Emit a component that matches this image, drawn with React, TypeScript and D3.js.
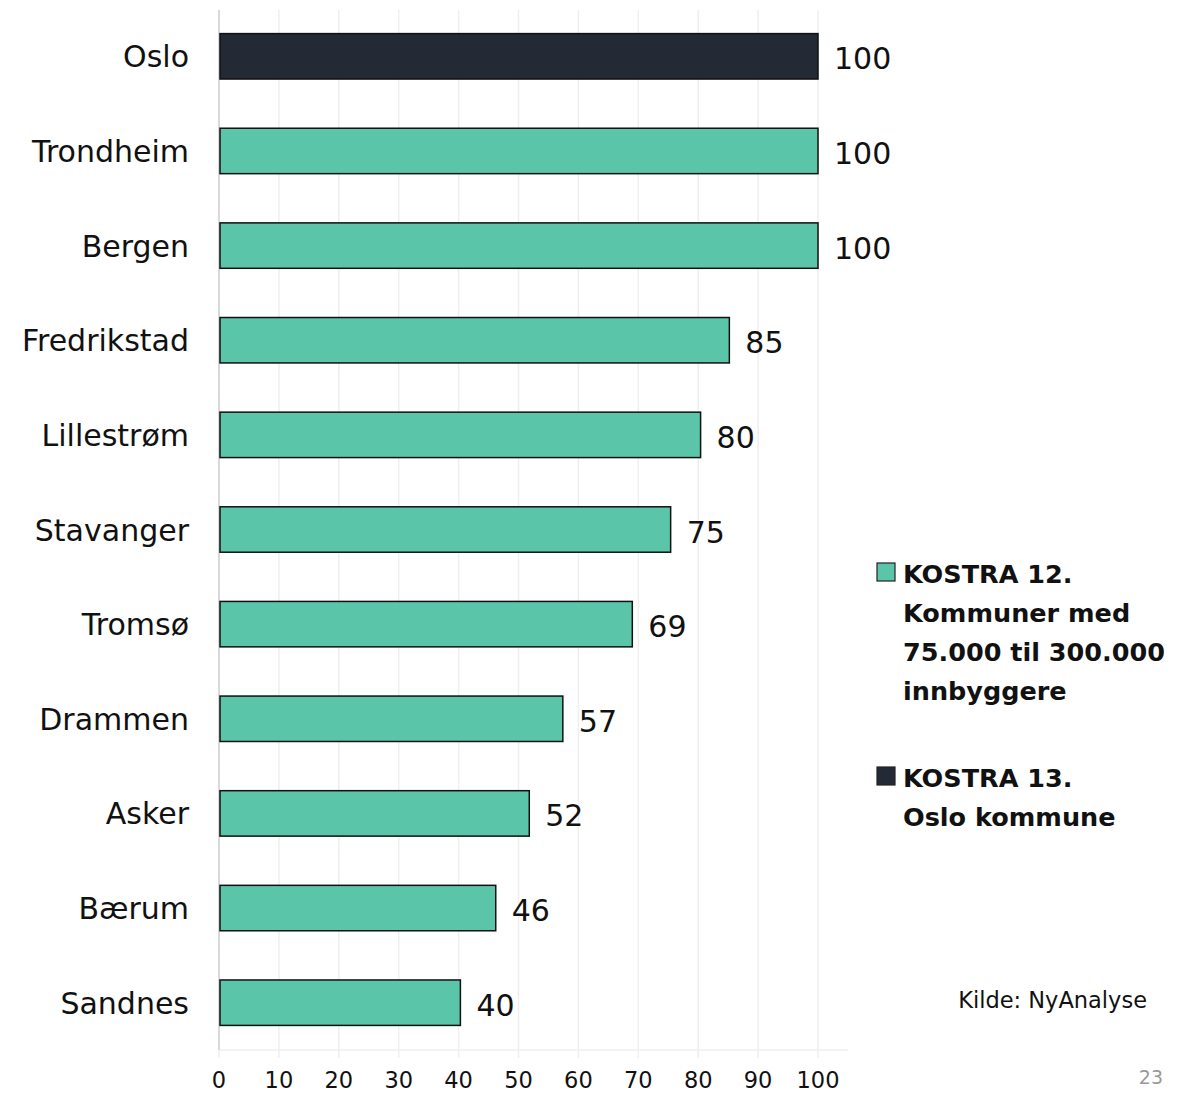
import React from "react";
import * as d3 from "d3";

const categories = ["Oslo", "Trondheim", "Bergen", "Fredrikstad", "Lillestrøm", "Stavanger", "Tromsø", "Drammen", "Asker", "Bærum", "Sandnes"];
const values = [100, 100, 100, 85.2, 80.4, 75.4, 69.0, 57.4, 51.8, 46.2, 40.3];
const groups = ["k13", "k12", "k12", "k12", "k12", "k12", "k12", "k12", "k12", "k12", "k12"];
const xTicks = [0, 10, 20, 30, 40, 50, 60, 70, 80, 90, 100];
const legendItems = [
  { key: "k12", lines: ["KOSTRA 12.", "Kommuner med", "75.000 til 300.000", "innbyggere"] },
  { key: "k13", lines: ["KOSTRA 13.", "Oslo kommune"] },
];
const source = "Kilde: NyAnalyse";
const pageNo = "23";

const colors: Record<string, string> = { k12: "#5BC5A9", k13: "#232A35" };
const FONT = "'DejaVu Sans', sans-serif";

export default function App() {
  const W = 1183, H = 1095;
  const x = d3.scaleLinear().domain([0, 100]).range([219, 818]);
  const y = d3.scaleBand().domain(categories).range([9, 1050]).paddingInner(0.52).paddingOuter(0.26);
  const axisY = 1050;
  return (
    <svg width={W} height={H} style={{ position: "absolute", left: 0, top: 0, background: "#fff" }} fontFamily={FONT}>
      {xTicks.map((t) => (
        <line key={"g" + t} x1={x(t)} x2={x(t)} y1={10} y2={axisY + 8} stroke="#efefef" strokeWidth={1.5} />
      ))}
      <line x1={219} x2={848} y1={axisY} y2={axisY} stroke="#efefef" strokeWidth={1.5} />
      <line x1={219} x2={219} y1={10} y2={axisY} stroke="#d9d9d9" strokeWidth={2} />
      {xTicks.map((t) => (
        <text key={"t" + t} x={x(t)} y={1088} textAnchor="middle" fontSize={22.5} fill="#111">{t}</text>
      ))}
      {categories.map((c, i) => {
        const yy = y(c)!;
        const bw = y.bandwidth();
        return (
          <g key={c}>
            <rect x={x(0) + 1} y={yy} width={x(values[i]) - x(0) - 1} height={bw} fill={colors[groups[i]]} stroke="#111" strokeWidth={1.5} />
            <text x={189} y={yy + bw / 2 + 11} textAnchor="end" fontSize={30} fill="#111">{c}</text>
            <text x={x(values[i]) + 16} y={yy + bw / 2 + 13} fontSize={30} fill="#111">{Math.round(values[i])}</text>
          </g>
        );
      })}
      {legendItems.map((it, k) => {
        const top = k === 0 ? 563 : 767;
        return (
          <g key={it.key}>
            <rect x={877} y={top} width={18} height={18} fill={colors[it.key]} stroke="#222" strokeWidth={1.2} />
            {it.lines.map((l, j) => (
              <text key={j} x={903} y={top + 20 + j * 39} fontSize={25.5} fontWeight="bold" fill="#111">{l}</text>
            ))}
          </g>
        );
      })}
      <text x={1147} y={1008} textAnchor="end" fontSize={22.5} fill="#111">{source}</text>
      <text x={1163} y={1084} textAnchor="end" fontSize={19} fill="#999">{pageNo}</text>
    </svg>
  );
}
